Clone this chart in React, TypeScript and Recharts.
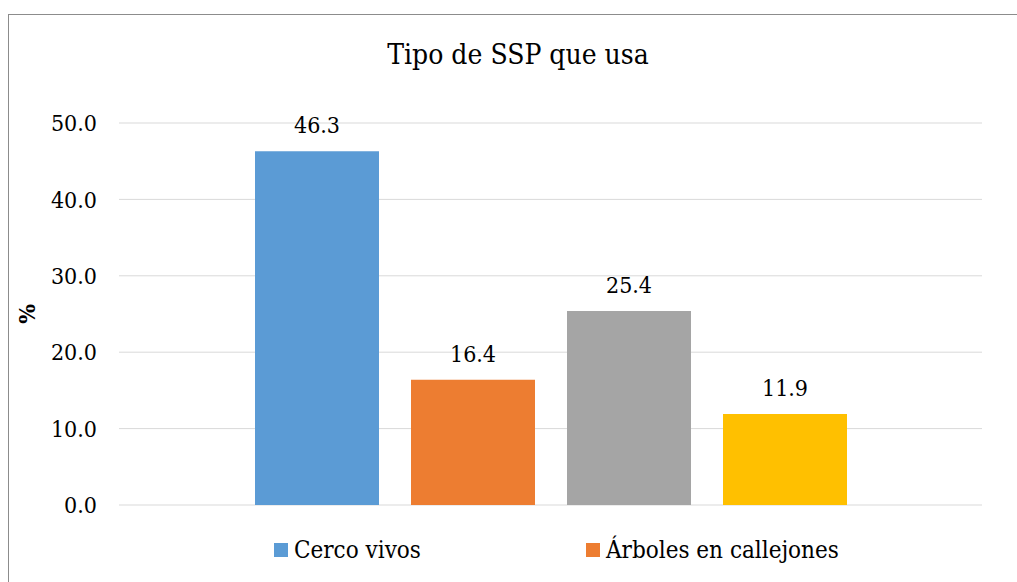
import { BarChart, Bar, XAxis, YAxis, CartesianGrid, LabelList } from "recharts"

const categories = ["Tipo de SSP"]
const seriesKeys = ["cercoVivos", "arbolesCallejones", "serie3", "serie4"]
const seriesValues = [46.3, 16.4, 25.4, 11.9]
const legendLabels = ["Cerco vivos", "Árboles en callejones"]
const yTicks = [0, 10, 20, 30, 40, 50]

const COLORS = ["#5B9BD5", "#ED7D31", "#A5A5A5", "#FFC000"]
const FONT = "DejaVu Serif Condensed"

const data = categories.map((cat) => {
  const row: Record<string, string | number> = { cat }
  seriesKeys.forEach((k, i) => {
    row[k] = seriesValues[i]
  })
  return row
})

// legend item x positions (square left edge)
const legendX = [274, 586]

export default function App() {
  return (
    <div style={{ position: "absolute", left: 0, top: 0, width: 1017, height: 582, overflow: "hidden", background: "#fff" }}>
      <div
        style={{
          position: "absolute",
          left: 8,
          top: 14,
          width: 1030,
          height: 600,
          borderLeft: "1px solid #8c8c8c",
          borderTop: "1px solid #8c8c8c",
        }}
      />
      <BarChart
        width={1017}
        height={582}
        data={data}
        margin={{ top: 123, right: 35, bottom: 77, left: 0 }}
        barGap={32}
        style={{ position: "absolute", left: 0, top: 0 }}
      >
        <CartesianGrid vertical={false} stroke="#d9d9d9" strokeWidth={1} />
        <XAxis dataKey="cat" hide />
        <YAxis
          width={119}
          domain={[0, 50]}
          ticks={yTicks}
          axisLine={false}
          tickLine={false}
          tickMargin={16}
          tickFormatter={(v: number) => v.toFixed(1)}
          tick={{ fill: "#000", fontSize: 23, fontFamily: FONT }}
        />
        {seriesKeys.map((k, i) => (
          <Bar key={k} dataKey={k} fill={COLORS[i]} barSize={124} isAnimationActive={false}>
            <LabelList
              dataKey={k}
              position="top"
              offset={18}
              formatter={(v: any) => Number(v).toFixed(1)}
              style={{ fill: "#000", fontSize: 23, fontFamily: FONT }}
            />
          </Bar>
        ))}
      </BarChart>
      <svg width={1017} height={582} style={{ position: "absolute", left: 0, top: 0, pointerEvents: "none" }}>
        <text x={518} y={64} textAnchor="middle" fontSize={28} style={{ fontFamily: FONT }} fill="#000">
          Tipo de SSP que usa
        </text>
        <text
          x={0}
          y={0}
          transform="translate(35 314) rotate(-90)"
          textAnchor="middle"
          fontSize={23}
          fontWeight="bold"
          style={{ fontFamily: FONT }}
          fill="#000"
        >
          %
        </text>
        {legendLabels.map((label, i) => (
          <g key={label}>
            <rect x={legendX[i]} y={543} width={14} height={14} fill={COLORS[i]} />
            <text x={legendX[i] + 20} y={558} fontSize={24} style={{ fontFamily: FONT }} fill="#000">
              {label}
            </text>
          </g>
        ))}
      </svg>
    </div>
  )
}
